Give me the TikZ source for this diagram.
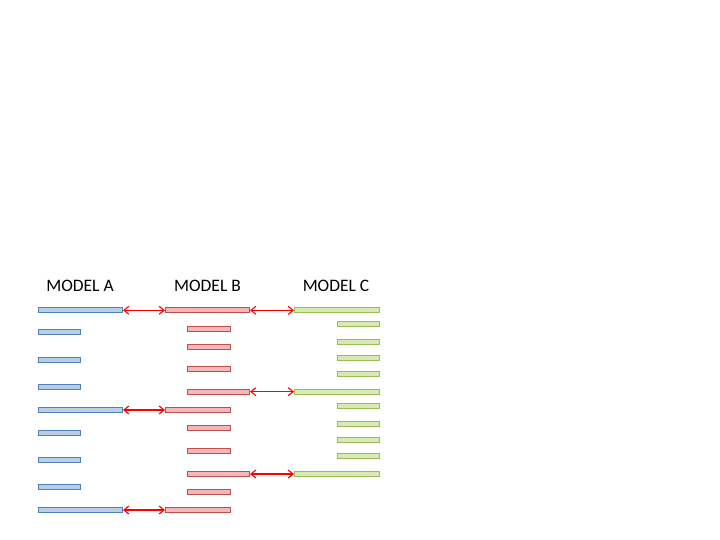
\documentclass[tikz,border=0pt]{standalone}
\usepackage{fontspec}
\setmainfont{Carlito}
\usetikzlibrary{arrows.meta}
\definecolor{blueF}{HTML}{B9CDE5}
\definecolor{blueD}{HTML}{4F81BD}
\definecolor{redF}{HTML}{F4B6B6}
\definecolor{redD}{HTML}{C0504D}
\definecolor{greenF}{HTML}{D7E9B5}
\definecolor{greenD}{HTML}{9BBB59}
\tikzset{
  barA/.style={draw=blueD, fill=blueF, line width=1pt},
  barB/.style={draw=redD, fill=redF, line width=1pt},
  barC/.style={draw=greenD, fill=greenF, line width=1pt},
  link/.style={red, line width=1.1pt, {Straight Barb[length=5pt,width=8pt]}-{Straight Barb[length=5pt,width=8pt]}},
  lbl/.style={font=\fontsize{17.5}{19}\selectfont, anchor=base}
}
\newcommand{\mybar}[6]{% name, style, x1, x2, y
  \node[#2, inner sep=0pt, minimum width=#4pt-#3pt, minimum height=5pt, anchor=west] (#1) at (#3,#5) {};}
\begin{document}
\begin{tikzpicture}[x=1pt,y=-1pt]
\useasboundingbox (0,0) rectangle (720,540);
\node[lbl] (la) at (80,291) {MODEL A};
\node[lbl] (lb) at (207.5,291) {MODEL B};
\node[lbl] (lc) at (336,291) {MODEL C};
% Model A
\mybar{a1}{barA}{38}{122}{310.3}{}
\mybar{a2}{barA}{38}{80}{332.3}{}
\mybar{a3}{barA}{38}{80}{359.7}{}
\mybar{a4}{barA}{38}{80}{387}{}
\mybar{a5}{barA}{38}{122}{410}{}
\mybar{a6}{barA}{38}{80}{432.7}{}
\mybar{a7}{barA}{38}{80}{460}{}
\mybar{a8}{barA}{38}{80}{487.3}{}
\mybar{a9}{barA}{38}{122}{510}{}
% Model B
\mybar{b1}{barB}{165}{249}{310.3}{}
\mybar{b2}{barB}{187}{230}{328.5}{}
\mybar{b3}{barB}{187}{230}{346.8}{}
\mybar{b4}{barB}{187}{230}{369}{}
\mybar{b5}{barB}{187}{249}{391.7}{}
\mybar{b6}{barB}{165}{230}{410}{}
\mybar{b7}{barB}{187}{230}{428.3}{}
\mybar{b8}{barB}{187}{230}{451}{}
\mybar{b9}{barB}{187}{249}{474}{}
\mybar{b10}{barB}{187}{230}{492}{}
\mybar{b11}{barB}{165}{230}{510}{}
% Model C
\mybar{c1}{barC}{294}{378.5}{310.3}{}
\mybar{c2}{barC}{336.5}{378.5}{324}{}
\mybar{c3}{barC}{336.5}{378.5}{342}{}
\mybar{c4}{barC}{336.5}{378.5}{358}{}
\mybar{c5}{barC}{336.5}{378.5}{374}{}
\mybar{c6}{barC}{294}{378.5}{391.7}{}
\mybar{c7}{barC}{336.5}{378.5}{405.7}{}
\mybar{c8}{barC}{336.5}{378.5}{424}{}
\mybar{c9}{barC}{336.5}{378.5}{440}{}
\mybar{c10}{barC}{336.5}{378.5}{456}{}
\mybar{c11}{barC}{294}{378.5}{474}{}
% links
\draw[link] (a1.east) -- (b1.west);
\draw[link] (a5.east) -- (b6.west);
\draw[link] (a9.east) -- (b11.west);
\draw[link] (b1.east) -- (c1.west);
\draw[link] (b5.east) -- (c6.west);
\draw[link] (b9.east) -- (c11.west);
\end{tikzpicture}
\end{document}
